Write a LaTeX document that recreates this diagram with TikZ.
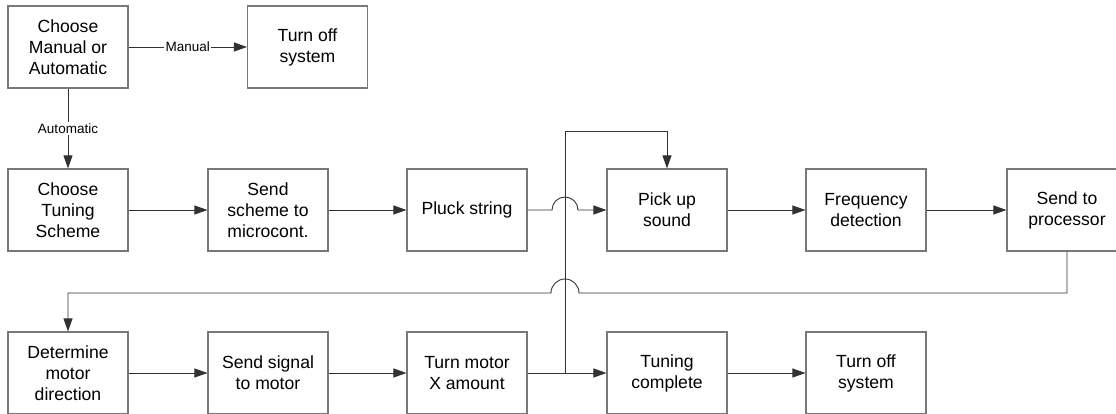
\documentclass[tikz,border=0pt]{standalone}
\usepackage{fontspec}
\setmainfont{Liberation Sans}
\usetikzlibrary{arrows.meta}
\definecolor{boxgray}{RGB}{120,120,120}
\definecolor{linegray}{RGB}{50,50,50}
\begin{document}
\begin{tikzpicture}[x=1pt,y=1pt,
  stepbox/.style={draw=boxgray, line width=1.1pt, minimum width=120pt, minimum height=82pt,
    inner sep=0pt, align=center, font=\fontsize{17.6pt}{21pt}\selectfont},
  conn/.style={draw=linegray, line width=0.9pt, -{Triangle[length=13pt,width=9pt]}},
  lbl/.style={fill=white, inner sep=1.5pt, font=\fontsize{13.5pt}{16pt}\selectfont}]
\useasboundingbox (0,0) rectangle (1116,413);
\clip (0,0) rectangle (1116,413);
% row 1
\node[stepbox] (cm) at (68,366) {Choose\\Manual or\\Automatic};
\node[stepbox] (off1) at (307.5,366) {Turn off\\system};
% row 2
\node[stepbox] (cts) at (68,203) {Choose\\Tuning\\Scheme};
\node[stepbox] (ssm) at (268,203) {Send\\scheme to\\microcont.};
\node[stepbox] (pluck) at (467,203) {Pluck string};
\node[stepbox] (pick) at (667,203) {Pick up\\sound};
\node[stepbox] (freq) at (866,203) {Frequency\\detection};
\node[stepbox] (proc) at (1067,203) {Send to\\processor};
% row 3
\node[stepbox] (det) at (68,40) {Determine\\motor\\direction};
\node[stepbox] (sig) at (268,40) {Send signal\\to motor};
\node[stepbox] (turn) at (467,40) {Turn motor\\X amount};
\node[stepbox] (tc) at (667,40) {Tuning\\complete};
\node[stepbox] (off2) at (866,40) {Turn off\\system};
% helper coordinates
\coordinate (jn) at (565,40);
\coordinate (loopTop) at (565,282);
\coordinate (jL) at (552,203);
\coordinate (fbR) at (579,120);
% connectors
\draw[conn] (cm.east) -- node[lbl] {Manual} (off1.west);
\draw[conn] (cm.south) -- node[lbl] {Automatic} (cts.north);
\draw[conn] (cts.east) -- (ssm.west);
\draw[conn] (ssm.east) -- (pluck.west);
\draw[conn] (pluck.east) -- (jL) arc[start angle=180,end angle=0,radius=13pt] -- (pick.west);
\draw[conn] (pick.east) -- (freq.west);
\draw[conn] (freq.east) -- (proc.west);
\draw[conn] (proc.south) |- (fbR) arc[start angle=0,end angle=180,radius=14pt] -- (det.north |- fbR) -- (det.north);
\draw[conn] (det.east) -- (sig.west);
\draw[conn] (sig.east) -- (turn.west);
\draw[conn] (turn.east) -- (tc.west);
\draw[conn] (tc.east) -- (off2.west);
\draw[conn] (jn) -- (loopTop) -| (pick.north);
\end{tikzpicture}
\end{document}
